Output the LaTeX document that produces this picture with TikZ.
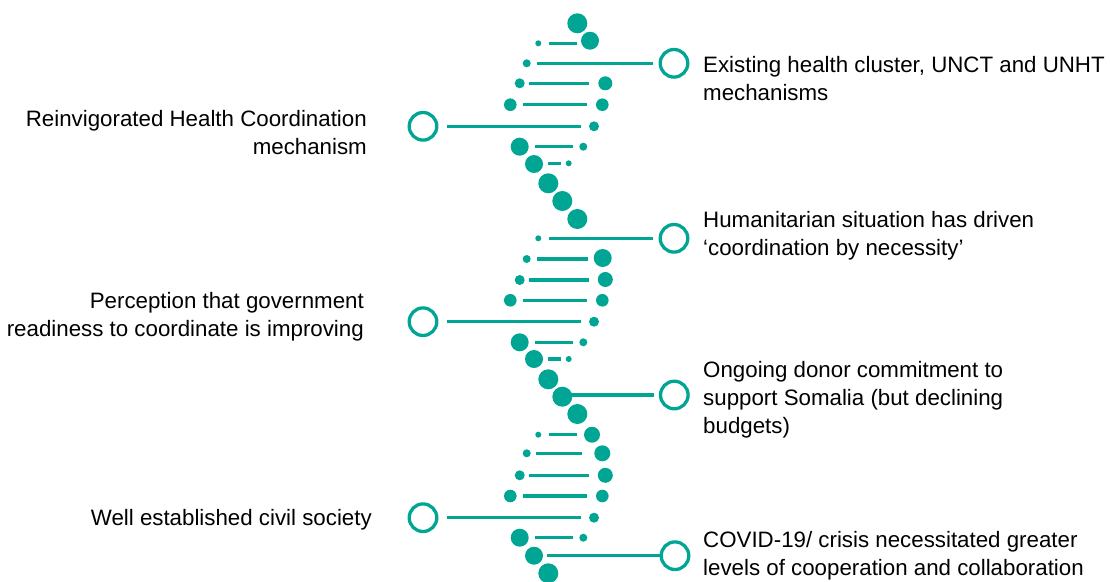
\documentclass[tikz,border=0pt]{standalone}
\usepackage{fontspec}
\setmainfont{Liberation Sans}
\definecolor{dnateal}{HTML}{00A693}
\tikzset{
  rung/.style={draw=dnateal,line width=3.4pt},
  ring/.style={circle,draw=dnateal,line width=3.3pt,minimum size=27.6pt,inner sep=0pt,outer sep=7pt},
  note/.style={font=\fontsize{22.3}{28}\selectfont,inner sep=0pt}
}
\begin{document}
\begin{tikzpicture}[x=1pt,y=-1pt]
  \useasboundingbox (0,0) rectangle (1110,581);
  % backbone beads of the helix
  \foreach \x/\y/\r in {577.3/23.3/10,590/40.7/9,538.3/43.3/3,526.7/63.3/4,519.7/83.3/5,605.3/83.3/7,
      510.3/104.7/6.3,602.3/104.7/6.3,594/126.3/5,519.7/146.7/9,583.3/146.7/4,534/164/9,568.7/163.3/3,
      548.3/183.3/10,562.3/201/10,577.3/219/10,
      538.3/238.3/3,526.7/259/4,602.7/258/9,519.7/280/5,605.3/279.5/7.5,510.3/300.3/6.3,602.3/300.3/6.3,
      594/321.7/5,519.7/342.3/9,583.3/342.3/4,534/359/9,568.7/359/3,548.3/379.3/10,562.3/396.7/10,577.3/414/10,
      538.3/434.7/3,592/434.7/8,526.7/453.3/4,602.3/453.3/8,519.7/475.3/5,605.3/475.3/7.5,510.3/496/6.3,
      602.3/496/6.3,594/517.7/5,519.7/537.7/9,583.3/537.7/4,534/555.7/9,548.3/573.3/10}
    \fill[dnateal] (\x,\y) circle[radius=\r pt];
  % short rungs
  \foreach \a/\b/\y in {548.7/577.3/43.3,529.3/589.3/83.3,523.3/587.3/104.7,535/572.7/146.7,548.3/560.7/163.3,
      537.3/588.3/259,529.3/589.3/280,523.3/587.3/300.3,535/572.7/342.3,548.3/560.7/359,
      548.7/577.3/434.7,536/581.7/453.3,529.3/589.3/475.3,523.3/587.3/496,535/572.7/537.7}
    \draw[rung] (\a,\y) -- (\b,\y);

  \node[ring] (r1) at (674,63.3) {};
  \node[ring] (r2) at (674,238.3) {};
  \node[ring] (r3) at (674.3,395) {};
  \node[ring] (r4) at (675,555.7) {};
  \node[ring] (l1) at (423,126.3) {};
  \node[ring] (l2) at (423,321.7) {};
  \node[ring] (l3) at (423,517.7) {};

  \coordinate (r1s) at (537.3,63.3);
  \coordinate (r2s) at (548.7,238.3);
  \coordinate (r3s) at (562.3,395);
  \coordinate (r4s) at (547.3,555.7);
  \coordinate (l1e) at (580.7,126.3);
  \coordinate (l2e) at (580.7,321.7);
  \coordinate (l3e) at (580.7,517.7);
  \draw[rung] (r1s) -- (r1);
  \draw[rung] (r2s) -- (r2);
  \draw[rung] (r3s) -- (r3);
  \draw[rung,shorten >=-7pt] (r4s) -- (r4);
  \draw[rung,shorten <=3pt] (l1) -- (l1e);
  \draw[rung,shorten <=3pt] (l2) -- (l2e);
  \draw[rung,shorten <=3pt] (l3) -- (l3e);

  % base anchor sits on the last line
  \node[note,anchor=base west,align=left] (t1) at (703,100) {Existing health cluster, UNCT and UNHT\\mechanisms};
  \node[note,anchor=base west,align=left] (t2) at (703,255.5) {Humanitarian situation has driven\\‘coordination by necessity’};
  \node[note,anchor=base west,align=left] (t3) at (703,433.3) {Ongoing donor commitment to\\support Somalia (but declining\\budgets)};
  \node[note,anchor=base west,align=left] (t4) at (703,575) {COVID-19/ crisis necessitated greater\\levels of cooperation and collaboration};
  \node[note,anchor=base east,align=right] (t5) at (367,154.3) {Reinvigorated Health Coordination\\mechanism};
  \node[note,anchor=base east,align=right] (t6) at (364,336.7) {Perception that government\\readiness to coordinate is improving};
  \node[note,anchor=base east,align=right] (t7) at (372,525.7) {Well established civil society};
\end{tikzpicture}
\end{document}
